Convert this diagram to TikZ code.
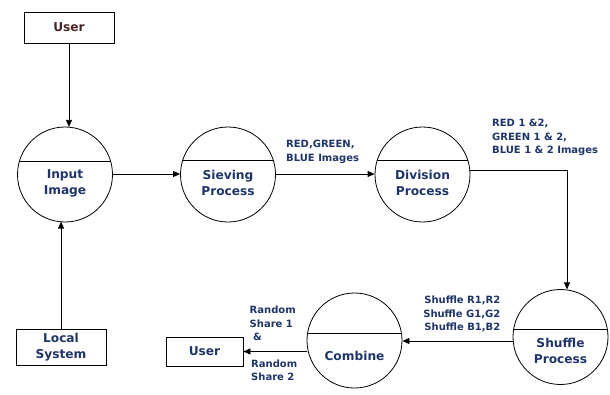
\documentclass[tikz,border=0pt]{standalone}
\usepackage{fontspec}
\setmainfont{DejaVu Sans}
\usetikzlibrary{arrows.meta}
\definecolor{navy}{HTML}{1F3468}
\definecolor{maroon}{HTML}{4A2424}
\tikzset{
  proc/.style={circle, draw, line width=0.8pt, minimum size=95pt, inner sep=0pt},
  chord/.style={path picture={\draw[line width=0.8pt] ([yshift=#1]path picture bounding box.west) -- ([yshift=#1]path picture bounding box.east);}},
  ptext/.style={font=\bfseries\fontsize{12.2}{16}\selectfont, text=navy, align=center, inner sep=0pt},
  lbl/.style={font=\bfseries\fontsize{10}{13.5}\selectfont, text=navy, align=left, inner sep=0pt, anchor=north west},
  box/.style={draw, line width=0.8pt, inner sep=0pt},
  conn/.style={line width=0.8pt, -{Triangle[length=7pt,width=6pt]}}
}
\begin{document}
\begin{tikzpicture}[x=1pt,y=-1pt]
\useasboundingbox (0,0) rectangle (610,394);
% boxes
\node[box, minimum width=90pt, minimum height=31pt, font=\bfseries\fontsize{12.2}{14}\selectfont, text=maroon] (user1) at (69,27.5) {User};
\node[box, minimum width=90pt, minimum height=36pt, font=\bfseries\fontsize{12.2}{16}\selectfont, text=navy, align=center] (local) at (61,347) {Local\\System};
\node[box, minimum width=77pt, minimum height=29pt, font=\bfseries\fontsize{12.2}{14}\selectfont, text=navy] (user2) at (204.5,351.5) {User};
% processes
\node[proc, chord=13pt] (in) at (65,174.5) {};
\node[ptext] (inT) at (65,183) {Input\\Image};
\node[proc, chord=14pt] (sv) at (228,174.5) {};
\node[ptext] (svT) at (228,183) {Sieving\\Process};
\node[proc, chord=14pt] (dv) at (422.5,174.5) {};
\node[ptext] (dvT) at (422.5,183) {Division\\Process};
\node[proc, chord=8pt] (sh) at (560.5,337) {};
\node[ptext] (shT) at (560.5,350.5) {Shuffle\\Process};
\node[proc, chord=7.5pt] (cb) at (354.5,340.5) {};
\node[ptext] (cbT) at (354.5,356) {Combine};
% connectors
\draw[conn] (user1.south) -- ([yshift=-0.3pt]user1.south |- in.north);
\draw[conn] (local.north) -- ([yshift=0.8pt]local.north |- in.south);
\draw[conn] (in.east |- 0,174) -- (sv.west |- 0,174);
\draw[conn] (sv.east |- 0,174) -- (dv.west |- 0,174);
\coordinate (corner) at (567,170);
\draw[conn] (dv.east |- corner) -- (corner) -- ([yshift=-0.3pt]corner |- sh.north);
\draw[conn] (sh.west |- 0,341) -- (cb.east |- 0,341);
\draw[conn] (cb.west |- 0,351.5) -- (user2.east);
% labels
\node[lbl] (l1) at (286,140) {RED,GREEN,\\BLUE Images};
\node[lbl] (l2) at (492,119) {RED 1 \&2,\\GREEN 1 \& 2,\\BLUE 1 \& 2 Images};
\node[lbl, align=right, anchor=north east] (l3) at (500.5,296) {Shuffle R1,R2\\Shuffle G1,G2\\Shuffle B1,B2};
\node[lbl] (l4) at (249.5,306) {Random\\Share 1\\\ \&};
\node[lbl] (l5) at (251,359.5) {Random\\Share 2};
\end{tikzpicture}
\end{document}
